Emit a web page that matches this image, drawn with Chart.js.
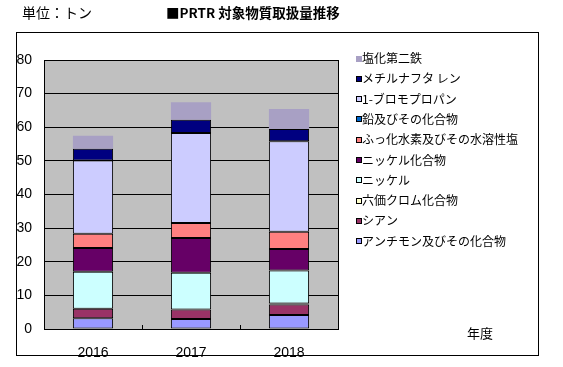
<!DOCTYPE html>
<html>
<head>
<meta charset="utf-8">
<script src="https://cdn.jsdelivr.net/npm/chart.js@4"></script>
<style>
  html, body { margin: 0; padding: 0; background: #fff; }
  #wrap { position: relative; width: 563px; height: 367px; }
</style>
</head>
<body>
<div id="wrap"><canvas id="prtrChart" width="563" height="367"></canvas></div>
<script>
// 年度
const years = ['2016', '2017', '2018'];
// 各物質の取扱量 (トン)
const antimony = [3.2, 3.0, 4.2];
const cyanide = [2.8, 2.8, 3.1];
const chromium6 = [0, 0, 0.3];
const nickel = [11.0, 10.9, 9.8];
const nickelCompounds = [7.1, 10.4, 6.4];
const hydrogenFluoride = [4.2, 4.4, 5.1];
const lead = [0, 0, 0];
const bromopropane = [21.8, 26.8, 26.9];
const methylnaphthalene = [3.5, 3.9, 3.7];
const ferricChloride = [3.9, 5.2, 5.9];
const yTicks = [0, 10, 20, 30, 40, 50, 60, 70, 80];

const jp = "'Noto Sans CJK JP', sans-serif";
const num = "'Liberation Sans', sans-serif";

function ds(label, data, color, border) {
    return {
        label: label,
        data: data,
        backgroundColor: color,
        borderColor: '#000',
        borderWidth: border === false ? 0 : 1,
        borderSkipped: false,
        barPercentage: 0.41,
        categoryPercentage: 1.0
    };
}

// 背景・枠・タイトル・凡例
const decor = {
    id: 'decor',
    beforeDraw(chart) {
        const c = chart.ctx, a = chart.chartArea;
        c.save();
        c.fillStyle = '#fff';
        c.fillRect(0, 0, chart.width, chart.height);
        c.fillStyle = '#c0c0c0';
        c.fillRect(a.left, a.top, a.right - a.left, a.bottom - a.top);
        c.restore();
    },
    afterDraw(chart) {
        const c = chart.ctx, a = chart.chartArea;
        c.save();
        c.strokeStyle = '#000';
        c.lineWidth = 1;
        c.strokeRect(Math.round(a.left) + 0.5, Math.round(a.top) + 0.5,
            Math.round(a.right - a.left), Math.round(a.bottom - a.top));
        c.strokeRect(16.5, 32.5, 522, 323);

        // x軸の目盛り (内向き)
        for (let i = 0; i <= years.length; i++) {
            const px = Math.round(a.left + (a.right - a.left) * i / years.length) + 0.5;
            c.beginPath();
            c.moveTo(px, a.bottom);
            c.lineTo(px, a.bottom - 4);
            c.stroke();
        }

        c.fillStyle = '#000';
        c.textBaseline = 'middle';
        c.textAlign = 'left';
        c.font = '14px ' + jp;
        c.fillText('単位：トン', 22, 13);
        c.font = 'bold 13.5px ' + jp;
        c.fillText('■PRTR 対象物質取扱量推移', 166, 13);
        c.font = '13px ' + jp;
        c.fillText('年度', 467, 333);

        // 凡例
        c.font = '12px ' + jp;
        const list = chart.data.datasets.slice().reverse();
        list.forEach((d, i) => {
            const y = 58.5 + i * 20.3;
            c.fillStyle = d.backgroundColor;
            c.fillRect(356, Math.round(y) - 3, 6, 6);
            if (d.borderWidth) {
                c.strokeStyle = '#000';
                c.strokeRect(356.5, Math.round(y) - 2.5, 5, 5);
            }
            c.fillStyle = '#000';
            c.fillText(d.label, 362, y);
        });
        c.restore();
    }
};

new Chart(document.getElementById('prtrChart'), {
    type: 'bar',
    data: {
        labels: years,
        datasets: [
            ds('アンチモン及びその化合物', antimony, '#9999ff'),
            ds('シアン', cyanide, '#993366'),
            ds('六価クロム化合物', chromium6, '#ffffcc'),
            ds('ニッケル', nickel, '#ccffff'),
            ds('ニッケル化合物', nickelCompounds, '#660066'),
            ds('ふっ化水素及びその水溶性塩', hydrogenFluoride, '#ff8080'),
            ds('鉛及びその化合物', lead, '#0066cc'),
            ds('1-ブロモプロパン', bromopropane, '#ccccff'),
            ds('メチルナフタ レン', methylnaphthalene, '#000080'),
            ds('塩化第二鉄', ferricChloride, '#a8a0c4', false)
        ]
    },
    options: {
        responsive: false,
        animation: false,
        layout: { padding: { left: 0, top: 60, right: 225, bottom: 0 } },
        plugins: {
            legend: { display: false },
            tooltip: { enabled: false }
        },
        scales: {
            x: {
                stacked: true,
                grid: { display: false },
                border: { display: false },
                ticks: { color: '#000', font: { family: num, size: 14 }, padding: 8 },
                afterFit(scale) { scale.height = 38; }
            },
            y: {
                stacked: true,
                min: 0,
                max: 80,
                afterBuildTicks(scale) { scale.ticks = yTicks.map(v => ({ value: v })); },
                grid: { color: '#000', lineWidth: 1, drawTicks: false },
                border: { display: false },
                ticks: { color: '#000', font: { family: num, size: 14 }, padding: 12 },
                afterFit(scale) { scale.width = 44; }
            }
        }
    },
    plugins: [decor]
});
</script>
</body>
</html>
